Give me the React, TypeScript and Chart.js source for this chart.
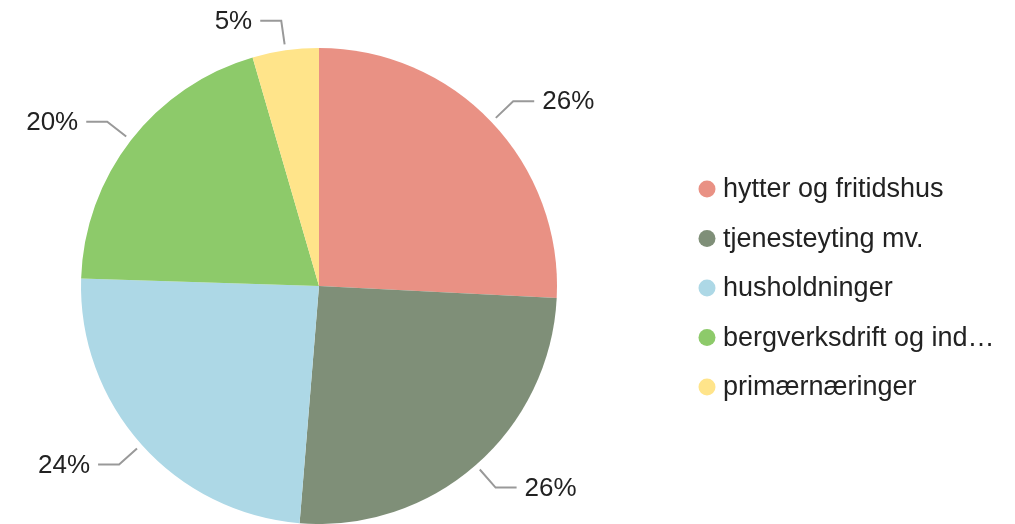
import React, { useEffect, useRef } from "react";
import { Chart, registerables } from "chart.js";

Chart.register(...registerables);

const categories = [
  "hytter og fritidshus",
  "tjenesteyting mv.",
  "husholdninger",
  "bergverksdrift og ind…",
  "primærnæringer",
];
const values = [25.8, 25.5, 24.2, 20.0, 4.5];
const colors = ["#E99184", "#7F8F78", "#ADD8E6", "#8DCA6A", "#FFE48A"];

const FONT = '"Liberation Sans", Arial, sans-serif';

const labelPlugin = {
  id: "outerLabels",
  afterDraw(chart: any) {
    const ctx = chart.ctx;
    const meta = chart.getDatasetMeta(0);
    const total = values.reduce((a, b) => a + b, 0);
    ctx.save();
    meta.data.forEach((arc: any, i: number) => {
      const { x, y, startAngle, endAngle, outerRadius } = arc.getProps(
        ["x", "y", "startAngle", "endAngle", "outerRadius"],
        true
      );
      const mid = (startAngle + endAngle) / 2;
      const cos = Math.cos(mid);
      const sin = Math.sin(mid);
      const r1 = outerRadius + 6;
      const r2 = outerRadius + 30;
      const x1 = x + cos * r1;
      const y1 = y + sin * r1;
      const x2 = x + cos * r2;
      const y2 = y + sin * r2;
      const dir = cos >= 0 ? 1 : -1;
      const x3 = x2 + dir * 21;
      ctx.strokeStyle = "#999999";
      ctx.lineWidth = 2;
      ctx.beginPath();
      ctx.moveTo(x1, y1);
      ctx.lineTo(x2, y2);
      ctx.lineTo(x3, y2);
      ctx.stroke();
      const pct = Math.round((values[i] / total) * 100) + "%";
      ctx.fillStyle = "#222222";
      ctx.font = "26px " + FONT;
      ctx.textBaseline = "middle";
      ctx.textAlign = dir > 0 ? "left" : "right";
      ctx.fillText(pct, x3 + dir * 8, y2 + 1);
    });

    // legend
    const lx = 707;
    const ly0 = 189;
    const step = 49.5;
    categories.forEach((c, i) => {
      const cy = ly0 + i * step;
      ctx.fillStyle = colors[i];
      ctx.beginPath();
      ctx.arc(lx, cy, 8.5, 0, Math.PI * 2);
      ctx.fill();
      ctx.fillStyle = "#222222";
      ctx.font = "27px " + FONT;
      ctx.textAlign = "left";
      ctx.textBaseline = "middle";
      ctx.fillText(c, lx + 16, cy + 1);
    });
    ctx.restore();
  },
};

export default function App() {
  const ref = useRef<HTMLCanvasElement>(null);
  useEffect(() => {
    const chart = new Chart(ref.current as HTMLCanvasElement, {
      type: "pie",
      data: {
        labels: categories,
        datasets: [
          {
            data: values,
            backgroundColor: colors,
            borderWidth: 0,
          },
        ],
      },
      options: {
        animation: false,
        responsive: false,
        maintainAspectRatio: false,
        layout: { padding: { top: 48, bottom: 0, left: 81, right: 458 } },
        plugins: {
          legend: { display: false },
          tooltip: { enabled: false },
        },
      },
      plugins: [labelPlugin],
    });
    return () => chart.destroy();
  }, []);
  return (
    <div style={{ position: "fixed", left: 0, top: 0, width: 1015, height: 524, background: "#fff" }}>
      <canvas ref={ref} width={1015} height={524} style={{ width: 1015, height: 524 }} />
    </div>
  );
}
